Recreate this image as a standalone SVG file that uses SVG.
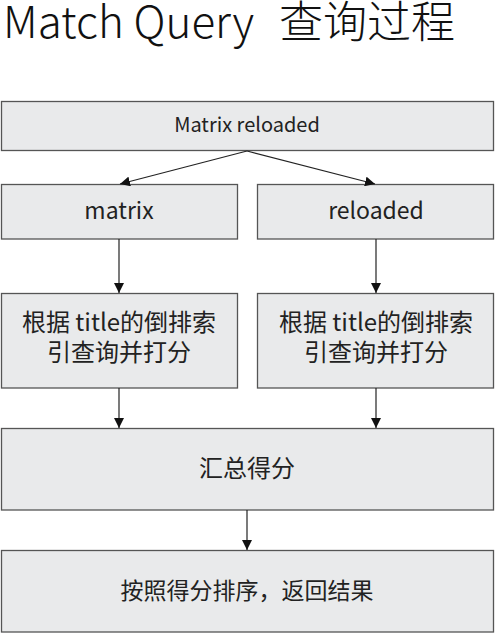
<svg xmlns="http://www.w3.org/2000/svg" width="496" height="636" viewBox="0 0 496 636">
<style>
.box{fill:#e9eaeb;stroke:#555;stroke-width:1.3}
.t{font-family:"Noto Sans CJK SC","Noto Sans",sans-serif;fill:#222;text-anchor:middle}
.c{stroke:#222;stroke-width:1.2;fill:none;marker-end:url(#ah)}
</style>
<defs>
<marker id="ah" viewBox="0 0 10 10" refX="10" refY="5" markerWidth="10" markerHeight="10" markerUnits="userSpaceOnUse" orient="auto">
<path d="M0,0 L10,5 L0,10 Z" fill="#111"/>
</marker>
</defs>
<rect width="496" height="636" fill="#fff"/>
<text x="3" y="38" font-size="44" fill="#111" font-family="Noto Sans CJK SC, Noto Sans, sans-serif" font-weight="300"><tspan>Match Query</tspan><tspan x="279">查询过程</tspan></text>
<g id="n-top"><rect class="box" x="1.5" y="101.5" width="492" height="49"/><text class="t" x="247" y="132" font-size="20">Matrix reloaded</text></g>
<g id="n-matrix"><rect class="box" x="1.5" y="184.5" width="236" height="54.5"/><text class="t" x="119" y="219" font-size="23">matrix</text></g>
<g id="n-reloaded"><rect class="box" x="257.5" y="184.5" width="236" height="54.5"/><text class="t" x="376" y="219" font-size="23">reloaded</text></g>
<g id="n-q1"><rect class="box" x="1.5" y="293.5" width="236" height="94.5"/><text class="t" font-size="24"><tspan x="119" y="331">根据 title的倒排索</tspan><tspan x="119" y="361">引查询并打分</tspan></text></g>
<g id="n-q2"><rect class="box" x="257.5" y="293.5" width="236" height="94.5"/><text class="t" font-size="24"><tspan x="376" y="331">根据 title的倒排索</tspan><tspan x="376" y="361">引查询并打分</tspan></text></g>
<g id="n-sum"><rect class="box" x="1.5" y="428.5" width="492" height="81.5"/><text class="t" x="247" y="477" font-size="24">汇总得分</text></g>
<g id="n-sort"><rect class="box" x="1.5" y="550.5" width="492" height="81.5"/><text class="t" x="247" y="599" font-size="23">按照得分排序，返回结果</text></g>
<g id="connectors">
<path class="c" d="M247,151 L120,184"/>
<path class="c" d="M247,151 L375,184"/>
<path class="c" d="M119,239 L119,293"/>
<path class="c" d="M376,239 L376,293"/>
<path class="c" d="M119,388 L119,428"/>
<path class="c" d="M376,388 L376,428"/>
<path class="c" d="M247,510 L247,550"/>
</g>
</svg>
